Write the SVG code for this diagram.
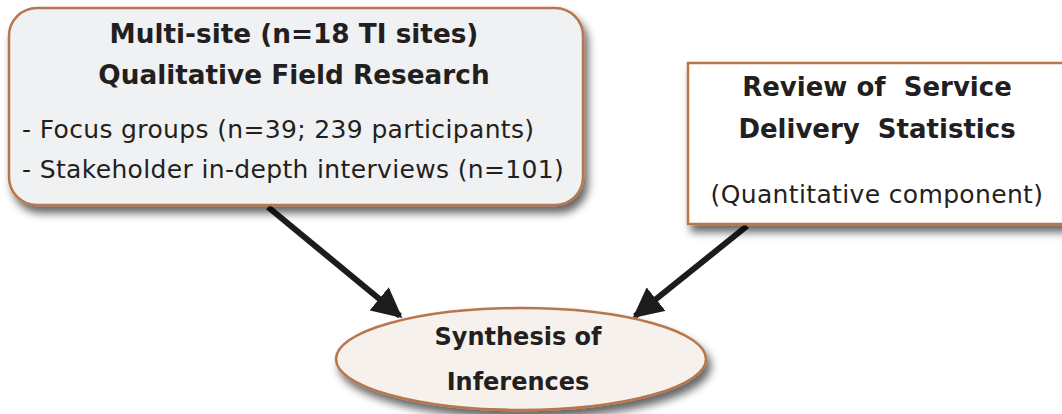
<svg xmlns="http://www.w3.org/2000/svg" width="1062" height="414" viewBox="0 0 1062 414">
<style>
.node{stroke:#b8764c;stroke-width:2.5}
.t{font-family:"DejaVu Sans",sans-serif;fill:#231f20;text-anchor:middle}
.b{font-weight:bold;font-size:26.3px}
.r{font-size:25px;letter-spacing:0.35px}
.conn{stroke:#1e1c1a;stroke-width:6;fill:none}
</style>
<defs>
<filter id="sh" x="-10%" y="-10%" width="130%" height="140%">
<feDropShadow dx="4" dy="7" stdDeviation="4" flood-color="#000" flood-opacity="0.6"/>
</filter>
<marker id="ah" viewBox="0 0 10 10" refX="9" refY="5" markerWidth="5" markerHeight="5" orient="auto" markerUnits="strokeWidth">
<path d="M0,0 L10,5 L0,10 z" fill="#1e1c1a"/>
</marker>
</defs>
<g id="connectors">
<line class="conn" x1="268" y1="207" x2="400" y2="316" marker-end="url(#ah)"/>
<line class="conn" x1="747" y1="226" x2="635" y2="316" marker-end="url(#ah)"/>
</g>
<g id="qual">
<rect class="node" x="9" y="8" width="574" height="197" rx="28" fill="#f0f1f3" filter="url(#sh)"/>
<text class="t b" x="294" y="43">Multi-site (n=18 TI sites)</text>
<text class="t b" x="294" y="84">Qualitative Field Research</text>
<text class="t r" x="22" y="138" style="text-anchor:start">- Focus groups (n=39; 239 participants)</text>
<text class="t r" x="22" y="178" style="text-anchor:start">- Stakeholder in-depth interviews (n=101)</text>
</g>
<g id="quant">
<rect class="node" x="688" y="63" width="390" height="161" fill="#ffffff" filter="url(#sh)"/>
<text class="t b" x="877" y="96" xml:space="preserve" style="font-size:26px">Review of  Service</text>
<text class="t b" x="877" y="138" xml:space="preserve" style="font-size:26px">Delivery  Statistics</text>
<text class="t r" x="877" y="203">(Quantitative component)</text>
</g>
<g id="synth">
<ellipse class="node" cx="521" cy="359" rx="185" ry="51" fill="#f6f1ec" filter="url(#sh)"/>
<text class="t b" x="518" y="345" style="font-size:24px">Synthesis of</text>
<text class="t b" x="518" y="390" style="font-size:24px">Inferences</text>
</g>
</svg>
